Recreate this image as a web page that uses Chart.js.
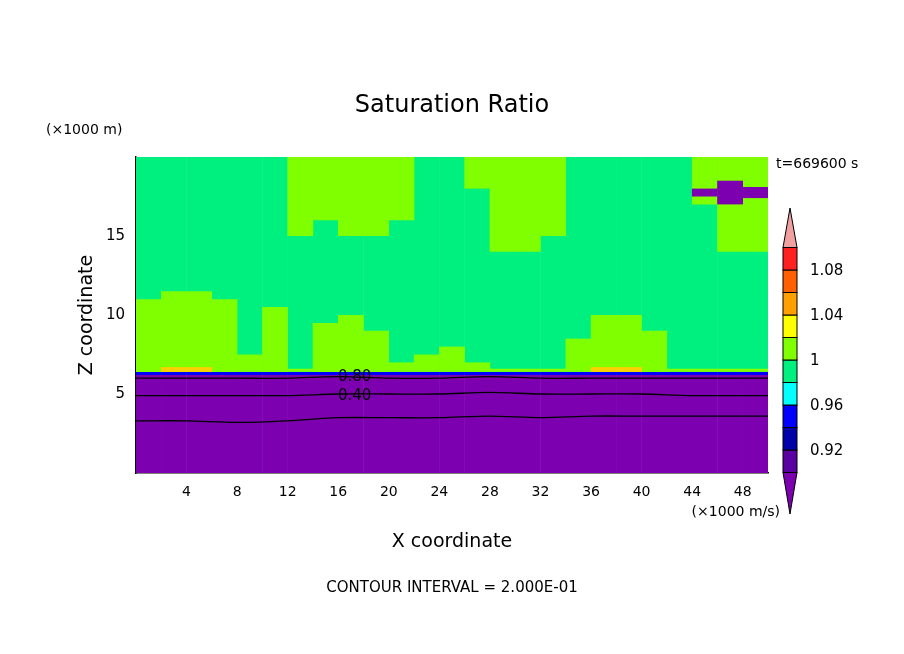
<!DOCTYPE html>
<html><head><meta charset="utf-8">
<script src="https://cdn.jsdelivr.net/npm/chart.js@4/dist/chart.umd.min.js"></script>
<style>html,body{margin:0;background:#fff}#w{width:904px;height:654px}</style>
</head><body><div id="w"><canvas id="c" width="904" height="654"></canvas></div>
<script>
const xTicks = [4,8,12,16,20,24,28,32,36,40,44,48];
const yTicks = [5,10,15];
const colX = [1,3,5,7,9,11,13,15,17,19,21,23,25,27,29,31,33,35,37,39,41,43,45,47,49];
const limeLowTop = [11,11.5,11.5,11,7.5,10.5,6.6,9.5,10,9,7,7.5,8,7,6.6,6.6,6.6,8.5,10,10,9,6.6,6.6,6.6,6.6];
const limeUpBottom = [20,20,20,20,20,20,15,16,15,15,16,20,20,18,14,14,15,20,20,20,20,20,17,14,14];
const blobX = [45,47,49];
const blobRange = [[17.5,18.0],[17.0,18.5],[17.4,18.1]];
const warmX = [3,5,37,39];
const lineX = [0,4,8,12,16,20,24,28,32,36,40,44,48,50];
const line080 = [6.0,6.0,6.0,6.0,6.1,6.0,6.0,6.1,6.0,6.0,6.0,6.0,6.0,6.0];
const line040 = [4.9,4.9,4.9,4.9,5.0,5.0,5.0,5.1,5.0,5.0,5.0,4.9,4.9,4.9];
const line030 = [3.3,3.3,3.2,3.3,3.5,3.5,3.5,3.6,3.5,3.6,3.6,3.6,3.6,3.6];
const cbColors = ['#5a00a0','#0000a8','#0000ff','#00ffff','#00f080','#80ff00','#ffff00','#ffa000','#ff6000','#ff2020'];
const cbLabels = ['0.92','0.96','1','1.04','1.08'];
const PURPLE='#7d00b0', GREEN='#00f080', LIME='#80ff00';
const bar=(label,xs,ranges,color,order)=>({type:'bar',label,order,data:xs.map((x,i)=>({x,y:ranges[i]})),backgroundColor:color,barPercentage:1.02,categoryPercentage:1,grouped:false,borderWidth:0});
const ln=(arr)=>({type:'line',order:0,data:lineX.map((x,i)=>({x,y:arr[i]})),borderColor:'#000',borderWidth:1.3,pointRadius:0,tension:0.3});
const deco={id:'deco',afterDraw(ch){const g=ch.ctx;g.save();g.fillStyle='#000';
 g.font='24px "DejaVu Sans"';g.textAlign='center';g.fillText('Saturation Ratio',452,112);
 g.font='19px "DejaVu Sans"';g.fillText('X coordinate',452,547);
 g.font='15px "DejaVu Sans"';g.fillText('CONTOUR INTERVAL = 2.000E-01',452,592);
 g.font='14px "DejaVu Sans"';g.textAlign='left';g.fillText('(×1000 m)',46,134);g.fillText('t=669600 s',776,168);
 g.textAlign='right';g.fillText('(×1000 m/s)',780,516);
 g.textAlign='left';g.font='15px "DejaVu Sans"';g.fillText('0.80',338,381);g.fillText('0.40',338,400);
 g.save();g.translate(92,315);g.rotate(-Math.PI/2);g.textAlign='center';g.font='19px "DejaVu Sans"';g.fillText('Z coordinate',0,0);g.restore();
 const x0=783,w=14,yb=472.5,st=22.5;g.strokeStyle='#000';
 cbColors.forEach((c,i)=>{g.fillStyle=c;g.fillRect(x0,yb-(i+1)*st,w,st);g.strokeRect(x0,yb-(i+1)*st,w,st);});
 g.fillStyle='#f0a0a0';g.beginPath();g.moveTo(x0,yb-10*st);g.lineTo(x0+w/2,208);g.lineTo(x0+w,yb-10*st);g.closePath();g.fill();g.stroke();
 g.fillStyle=PURPLE;g.beginPath();g.moveTo(x0,yb);g.lineTo(x0+w/2,514);g.lineTo(x0+w,yb);g.closePath();g.fill();g.stroke();
 g.fillStyle='#000';g.font='15px "DejaVu Sans"';g.textAlign='left';
 cbLabels.forEach((t,i)=>g.fillText(t,810,yb-(2*i+1)*st+5));
 g.restore();}};
new Chart(document.getElementById('c'),{data:{datasets:[
 bar('purple',colX,colX.map(()=>[0,6.2]),PURPLE,9),
 bar('blue',colX,colX.map(()=>[6.2,6.4]),'#0000ff',9),
 bar('green',colX,colX.map(()=>[6.4,20]),GREEN,9),
 bar('limeLow',colX,limeLowTop.map(v=>[6.4,v]),LIME,5),
 bar('limeUp',colX,limeUpBottom.map(v=>[v,20]),LIME,5),
 bar('blob',blobX,blobRange,PURPLE,3),
 bar('warm',warmX,warmX.map(()=>[6.4,6.7]),'#ffd000',3),
 ln(line080),ln(line040),ln(line030)]},
 options:{animation:false,responsive:false,plugins:{legend:{display:false},tooltip:{enabled:false}},
 layout:{padding:{left:96,right:136,top:157,bottom:156}},
 scales:{x:{type:'linear',min:0,max:50,offset:false,afterFit:s=>{s.height=25},afterBuildTicks:s=>{s.ticks=xTicks.map(v=>({value:v}))},grid:{display:false},border:{color:'#000',width:1.5},ticks:{autoSkip:false,maxRotation:0,color:'#000',font:{size:14,family:'DejaVu Sans'}}},
 y:{min:0,max:20,afterFit:s=>{s.width=40},afterBuildTicks:s=>{s.ticks=yTicks.map(v=>({value:v}))},grid:{display:false},border:{color:'#000',width:1.5},ticks:{color:'#000',font:{size:15,family:'DejaVu Sans'}}}}},
 plugins:[deco]});
</script></body></html>
